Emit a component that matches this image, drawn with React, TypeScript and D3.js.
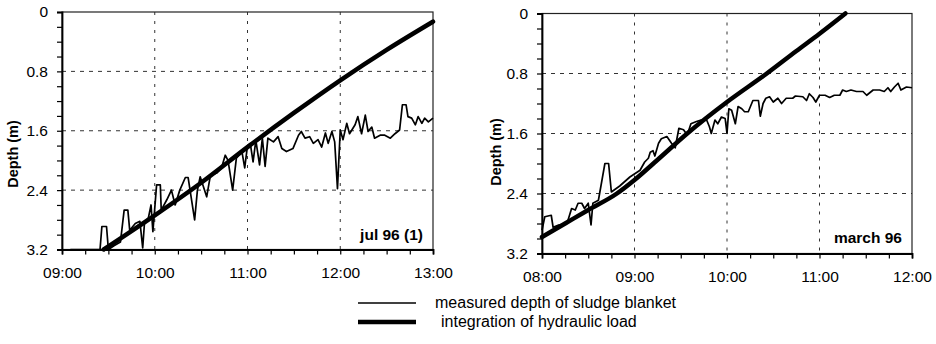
import { useEffect, useRef } from 'react';
import * as d3 from 'd3';

// measured depth of sludge blanket, [hour, depth m]
const julMeasured: [number, number][] = [
  [9.09, 3.2], [9.41, 3.2], [9.43, 2.89], [9.48, 2.89], [9.5, 3.2], [9.56, 3.15], [9.63, 3.1],
  [9.67, 2.67], [9.71, 2.67], [9.73, 2.94], [9.79, 2.85], [9.84, 2.82], [9.87, 3.18], [9.89, 2.83],
  [9.93, 2.78], [9.96, 2.6], [9.98, 2.96], [10.02, 2.33], [10.06, 2.33], [10.07, 2.67], [10.13, 2.53],
  [10.18, 2.4], [10.22, 2.6], [10.27, 2.4], [10.33, 2.23], [10.36, 2.23], [10.43, 2.8], [10.46, 2.4],
  [10.49, 2.22], [10.56, 2.49], [10.6, 2.2], [10.67, 2.17], [10.72, 2.1], [10.76, 1.93], [10.79, 2.0],
  [10.84, 2.4], [10.88, 1.97], [10.94, 1.88], [10.97, 2.1], [11.0, 1.8], [11.03, 1.77], [11.06, 2.02],
  [11.09, 1.73], [11.13, 2.06], [11.16, 1.7], [11.19, 2.08], [11.22, 1.7], [11.28, 1.75], [11.33, 1.68],
  [11.37, 1.84], [11.42, 1.88], [11.49, 1.84], [11.55, 1.66], [11.58, 1.61], [11.62, 1.7], [11.67, 1.68],
  [11.71, 1.77], [11.76, 1.72], [11.8, 1.82], [11.84, 1.63], [11.87, 1.77], [11.91, 1.61], [11.94, 1.75],
  [11.97, 2.38], [12.0, 1.59], [12.03, 1.72], [12.07, 1.5], [12.1, 1.64], [12.16, 1.52], [12.19, 1.41],
  [12.23, 1.64], [12.27, 1.39], [12.3, 1.61], [12.34, 1.55], [12.37, 1.7], [12.43, 1.66], [12.48, 1.66],
  [12.54, 1.7], [12.59, 1.64], [12.64, 1.59], [12.67, 1.25], [12.71, 1.25], [12.73, 1.41], [12.77, 1.43],
  [12.81, 1.52], [12.84, 1.41], [12.88, 1.5], [12.91, 1.43], [12.95, 1.48], [13.0, 1.43],
];

// integration of hydraulic load
const julIntegration: [number, number][] = [
  [9.45, 3.2], [10, 2.74], [10.5, 2.3], [11, 1.82], [11.5, 1.36], [12, 0.92], [12.5, 0.51], [13, 0.13],
];

const marchMeasured: [number, number][] = [
  [8.0, 2.89], [8.03, 2.71], [8.1, 2.69], [8.12, 2.85], [8.18, 2.82], [8.27, 2.8], [8.32, 2.6], [8.36, 2.62],
  [8.39, 2.53], [8.43, 2.53], [8.46, 2.6], [8.5, 2.53], [8.53, 2.82], [8.55, 2.53], [8.61, 2.49], [8.68, 2.0],
  [8.72, 2.0], [8.75, 2.38], [8.84, 2.3], [8.95, 2.18], [9.06, 2.09], [9.11, 1.98], [9.15, 1.93], [9.17, 1.85],
  [9.2, 1.83], [9.22, 1.9], [9.26, 1.73], [9.29, 1.67], [9.35, 1.64], [9.4, 1.73], [9.44, 1.79], [9.48, 1.53],
  [9.53, 1.55], [9.57, 1.62], [9.61, 1.47], [9.67, 1.44], [9.72, 1.42], [9.78, 1.42], [9.81, 1.51], [9.83, 1.6],
  [9.87, 1.42], [9.9, 1.47], [9.94, 1.38], [9.98, 1.4], [10.0, 1.6], [10.02, 1.27], [10.05, 1.29], [10.09, 1.47],
  [10.12, 1.24], [10.16, 1.27], [10.19, 1.31], [10.23, 1.31], [10.28, 1.16], [10.34, 1.16], [10.36, 1.37],
  [10.39, 1.2], [10.42, 1.13], [10.46, 1.11], [10.5, 1.18], [10.55, 1.13], [10.59, 1.2], [10.64, 1.13],
  [10.71, 1.13], [10.74, 1.1], [10.82, 1.11], [10.86, 1.16], [10.89, 1.07], [10.93, 1.12], [10.96, 1.18],
  [11.0, 1.09], [11.06, 1.09], [11.11, 1.12], [11.16, 1.09], [11.22, 1.09], [11.25, 1.02], [11.29, 1.04],
  [11.34, 1.02], [11.4, 1.04], [11.47, 1.04], [11.51, 1.09], [11.58, 1.02], [11.65, 1.02], [11.7, 1.04],
  [11.74, 0.99], [11.77, 1.04], [11.81, 0.98], [11.85, 0.93], [11.88, 1.02], [11.94, 0.98], [12.0, 0.99],
];

const marchIntegration: [number, number][] = [
  [8.0, 2.98], [8.25, 2.8], [8.5, 2.62], [8.81, 2.4], [9.0, 2.22], [9.25, 1.95], [9.57, 1.6], [10, 1.18],
  [10.43, 0.8], [10.75, 0.5], [11, 0.27], [11.28, 0],
];

const yTicks = [0, 0.8, 1.6, 2.4, 3.2];
const yTickLabels = ['0', '0.8', '1.6', '2.4', '3.2'];
const julHours = [9, 10, 11, 12, 13];
const marchHours = [8, 9, 10, 11, 12];
const legendLabels = ['measured depth of sludge blanket', 'integration of hydraulic load'];

const FONT = '"Liberation Sans", Arial, sans-serif';

type Panel = {
  hours: number[];
  measured: [number, number][];
  integration: [number, number][];
  note: string;
  left: number;
  right: number;
  top: number;
  bottom: number;
  labelX: number;
  labelY: number;
  noteY: number;
};

const panels: Panel[] = [
  { hours: julHours, measured: julMeasured, integration: julIntegration, note: 'jul 96 (1)',
    left: 62, right: 433, top: 12, bottom: 249.5, labelX: 13, labelY: 154, noteY: 240 },
  { hours: marchHours, measured: marchMeasured, integration: marchIntegration, note: 'march 96',
    left: 542, right: 912, top: 13.5, bottom: 253.5, labelX: 496, labelY: 152, noteY: 243 },
];

const fmtHour = (h: number) => `${String(h).padStart(2, '0')}:00`;

export default function App() {
  const ref = useRef<SVGSVGElement>(null);

  useEffect(() => {
    if (!ref.current) return;
    const svg = d3.select(ref.current);
    svg.selectAll('*').remove();

    panels.forEach((p) => {
      const x = d3.scaleLinear()
        .domain([p.hours[0], p.hours[p.hours.length - 1]])
        .range([p.left, p.right]);
      const y = d3.scaleLinear().domain([0, 3.2]).range([p.top, p.bottom]);
      const g = svg.append('g');

      // grid
      g.selectAll('line.hgrid')
        .data(yTicks.slice(1, -1))
        .enter().append('line')
        .attr('x1', p.left).attr('x2', p.right)
        .attr('y1', (d) => y(d)).attr('y2', (d) => y(d))
        .attr('stroke', '#333').attr('stroke-width', 1).attr('stroke-dasharray', '4,5');
      g.selectAll('line.vgrid')
        .data(p.hours.slice(1, -1))
        .enter().append('line')
        .attr('x1', (d) => x(d)).attr('x2', (d) => x(d))
        .attr('y1', p.top).attr('y2', p.bottom)
        .attr('stroke', '#333').attr('stroke-width', 1).attr('stroke-dasharray', '3,6');

      // frame
      g.append('rect')
        .attr('x', p.left).attr('y', p.top)
        .attr('width', p.right - p.left).attr('height', p.bottom - p.top)
        .attr('fill', 'none').attr('stroke', '#222').attr('stroke-width', 1.2);

      // y axis
      const yAxis = d3.axisLeft(y)
        .tickValues(d3.range(0, 3.21, 0.2))
        .tickSize(5)
        .tickPadding(9)
        .tickFormat((d) => {
          const i = yTicks.findIndex((v) => Math.abs(v - +d) < 1e-6);
          return i >= 0 ? yTickLabels[i] : '';
        });
      const ya = g.append('g').attr('transform', `translate(${p.left},0)`).call(yAxis);
      ya.select('.domain').attr('stroke', '#000').attr('stroke-width', 1.8);
      ya.selectAll('.tick line').attr('stroke', '#000').attr('stroke-width', 1.2);
      ya.selectAll('text').attr('font-family', FONT).attr('font-size', 15.5).attr('fill', '#000');

      // x axis
      const xAxis = d3.axisBottom(x)
        .tickValues(d3.range(p.hours[0], p.hours[p.hours.length - 1] + 0.01, 0.25))
        .tickSize(5)
        .tickPadding(12)
        .tickFormat((d) => (Number.isInteger(+d) ? fmtHour(+d) : ''));
      const xa = g.append('g').attr('transform', `translate(0,${p.bottom})`).call(xAxis);
      xa.select('.domain').attr('stroke', '#000').attr('stroke-width', 1.8);
      xa.selectAll('.tick line').attr('stroke', '#000').attr('stroke-width', 1.2);
      xa.selectAll('text').attr('font-family', FONT).attr('font-size', 15.5).attr('fill', '#000');

      // axis title
      g.append('text')
        .attr('transform', `translate(${p.labelX},${p.labelY}) rotate(-90)`)
        .attr('text-anchor', 'middle')
        .attr('dominant-baseline', 'central')
        .attr('font-family', FONT).attr('font-size', 14.5).attr('font-weight', 'bold')
        .text('Depth (m)');

      // lines
      const line = d3.line<[number, number]>().x((d) => x(d[0])).y((d) => y(d[1]));
      g.append('path').datum(p.measured)
        .attr('d', line).attr('fill', 'none').attr('stroke', '#000')
        .attr('stroke-width', 1.7).attr('stroke-linejoin', 'round');
      g.append('path').datum(p.integration)
        .attr('d', line.curve(d3.curveMonotoneX)).attr('fill', 'none').attr('stroke', '#000')
        .attr('stroke-width', 4.5).attr('stroke-linecap', 'round');

      // note
      g.append('text')
        .attr('x', p.right - 10).attr('y', p.noteY)
        .attr('text-anchor', 'end')
        .attr('font-family', FONT).attr('font-size', 15.5).attr('font-weight', 'bold')
        .text(p.note);
    });

    // legend
    const legend = svg.append('g');
    [1.6, 4.5].forEach((w, i) => {
      const ly = 303 + i * 19;
      legend.append('line')
        .attr('x1', 358).attr('x2', 416).attr('y1', ly).attr('y2', ly)
        .attr('stroke', '#000').attr('stroke-width', w);
      legend.append('text')
        .attr('x', 435 + i * 6).attr('y', ly + 5)
        .attr('font-family', FONT).attr('font-size', 16)
        .text(legendLabels[i]);
    });
  }, []);

  return (
    <svg ref={ref} width={936} height={344}
      style={{ position: 'absolute', left: 0, top: 0, background: '#fff' }} />
  );
}
